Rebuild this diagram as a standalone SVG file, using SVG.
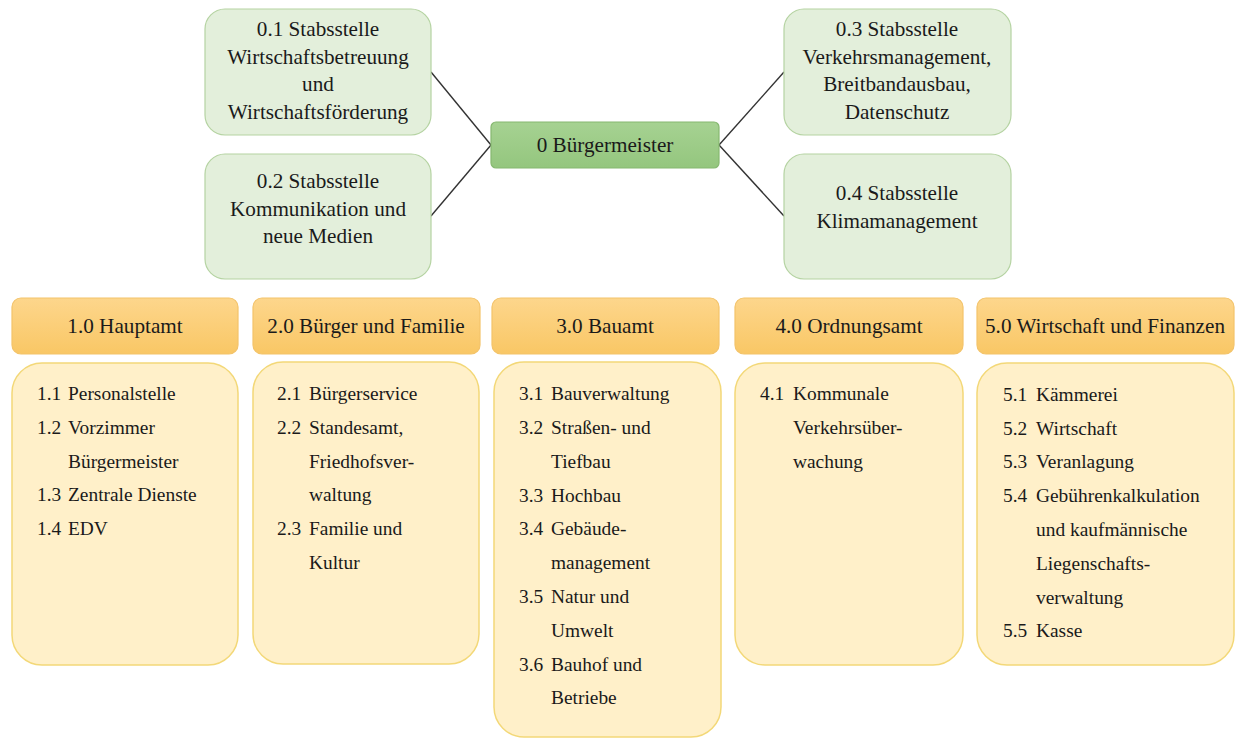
<svg xmlns="http://www.w3.org/2000/svg" width="1236" height="738" viewBox="0 0 1236 738">
  <defs>
    <linearGradient id="gradHead" x1="0" y1="0" x2="0" y2="1">
      <stop offset="0" stop-color="#fdd68c"/>
      <stop offset="1" stop-color="#f9c765"/>
    </linearGradient>
    <linearGradient id="gradChief" x1="0" y1="0" x2="0" y2="1">
      <stop offset="0" stop-color="#a6d292"/>
      <stop offset="1" stop-color="#94c67e"/>
    </linearGradient>
    <style>
      text { font-family: "Liberation Serif", "Times New Roman", serif; fill: #1a1a1a; }
      .staff rect { fill: #e3efdb; stroke: #b5d3a2; stroke-width: 1.2; }
      .staff text { font-size: 21.2px; text-anchor: middle; }
      .chief rect { fill: url(#gradChief); stroke: #86b870; stroke-width: 1.2; }
      .chief text { font-size: 21.2px; text-anchor: middle; }
      .head rect { fill: url(#gradHead); stroke: #f3c36a; stroke-width: 1.2; }
      .head text { font-size: 21.2px; text-anchor: middle; }
      .body rect { fill: #fff0c9; stroke: #f3d878; stroke-width: 1.5; }
      .body text { font-size: 19.4px; }
      .links line { stroke: #333333; stroke-width: 1.4; }
    </style>
  </defs>

  <rect width="1236" height="738" fill="#ffffff"/>

  <!-- connectors between the mayor and the staff units -->
  <g id="connectors" class="links">
    <line x1="431" y1="72" x2="491" y2="145"/>
    <line x1="431" y1="216" x2="491" y2="145"/>
    <line x1="719" y1="145" x2="784" y2="72"/>
    <line x1="719" y1="145" x2="784" y2="216"/>
  </g>

  <!-- staff units -->
  <g id="n01" class="staff">
    <rect x="205" y="9" width="226" height="126" rx="20"/>
    <text x="318" y="36">0.1 Stabsstelle</text>
    <text x="318" y="64">Wirtschaftsbetreuung</text>
    <text x="318" y="91">und</text>
    <text x="318" y="119">Wirtschaftsförderung</text>
  </g>
  <g id="n02" class="staff">
    <rect x="205" y="154" width="226" height="125" rx="20"/>
    <text x="318" y="188">0.2 Stabsstelle</text>
    <text x="318" y="216">Kommunikation und</text>
    <text x="318" y="243">neue Medien</text>
  </g>
  <g id="n03" class="staff">
    <rect x="784" y="9" width="227" height="126" rx="20"/>
    <text x="897" y="36">0.3 Stabsstelle</text>
    <text x="897" y="64">Verkehrsmanagement,</text>
    <text x="897" y="91">Breitbandausbau,</text>
    <text x="897" y="119">Datenschutz</text>
  </g>
  <g id="n04" class="staff">
    <rect x="784" y="154" width="227" height="125" rx="20"/>
    <text x="897" y="200">0.4 Stabsstelle</text>
    <text x="897" y="228">Klimamanagement</text>
  </g>

  <!-- mayor -->
  <g id="n0" class="chief">
    <rect x="491" y="122" width="228" height="46" rx="5"/>
    <text x="605" y="152">0 Bürgermeister</text>
  </g>

  <!-- departments -->
  <g id="d1">
    <g class="head">
      <rect x="12" y="298" width="226" height="56" rx="9"/>
      <text x="125" y="333">1.0 Hauptamt</text>
    </g>
    <g class="body">
      <rect x="12" y="363" width="226" height="302" rx="30"/>
      <text x="37" y="400">1.1</text><text x="68" y="400">Personalstelle</text>
      <text x="37" y="434">1.2</text><text x="68" y="434">Vorzimmer</text>
      <text x="68" y="468">Bürgermeister</text>
      <text x="37" y="501">1.3</text><text x="68" y="501">Zentrale Dienste</text>
      <text x="37" y="535">1.4</text><text x="68" y="535">EDV</text>
    </g>
  </g>

  <g id="d2">
    <g class="head">
      <rect x="253" y="298" width="227" height="56" rx="9"/>
      <text x="366" y="333">2.0 Bürger und Familie</text>
    </g>
    <g class="body">
      <rect x="253" y="362" width="226" height="302" rx="30"/>
      <text x="277" y="400">2.1</text><text x="309" y="400">Bürgerservice</text>
      <text x="277" y="434">2.2</text><text x="309" y="434">Standesamt,</text>
      <text x="309" y="468">Friedhofsver-</text>
      <text x="309" y="501">waltung</text>
      <text x="277" y="535">2.3</text><text x="309" y="535">Familie und</text>
      <text x="309" y="569">Kultur</text>
    </g>
  </g>

  <g id="d3">
    <g class="head">
      <rect x="492" y="298" width="227" height="56" rx="9"/>
      <text x="605" y="333">3.0 Bauamt</text>
    </g>
    <g class="body">
      <rect x="494" y="362" width="227" height="375" rx="30"/>
      <text x="519" y="400">3.1</text><text x="551" y="400">Bauverwaltung</text>
      <text x="519" y="434">3.2</text><text x="551" y="434">Straßen- und</text>
      <text x="551" y="468">Tiefbau</text>
      <text x="519" y="502">3.3</text><text x="551" y="502">Hochbau</text>
      <text x="519" y="535">3.4</text><text x="551" y="535">Gebäude-</text>
      <text x="551" y="569">management</text>
      <text x="519" y="603">3.5</text><text x="551" y="603">Natur und</text>
      <text x="551" y="637">Umwelt</text>
      <text x="519" y="671">3.6</text><text x="551" y="671">Bauhof und</text>
      <text x="551" y="704">Betriebe</text>
    </g>
  </g>

  <g id="d4">
    <g class="head">
      <rect x="735" y="298" width="228" height="56" rx="9"/>
      <text x="849" y="333">4.0 Ordnungsamt</text>
    </g>
    <g class="body">
      <rect x="735" y="363" width="228" height="302" rx="30"/>
      <text x="760" y="400">4.1</text><text x="793" y="400">Kommunale</text>
      <text x="793" y="434">Verkehrsüber-</text>
      <text x="793" y="468">wachung</text>
    </g>
  </g>

  <g id="d5">
    <g class="head">
      <rect x="977" y="298" width="257" height="56" rx="9"/>
      <text x="1105" y="333">5.0 Wirtschaft und Finanzen</text>
    </g>
    <g class="body">
      <rect x="977" y="363" width="257" height="302" rx="30"/>
      <text x="1003" y="401">5.1</text><text x="1036" y="401">Kämmerei</text>
      <text x="1003" y="435">5.2</text><text x="1036" y="435">Wirtschaft</text>
      <text x="1003" y="468">5.3</text><text x="1036" y="468">Veranlagung</text>
      <text x="1003" y="502">5.4</text><text x="1036" y="502">Gebührenkalkulation</text>
      <text x="1036" y="536">und kaufmännische</text>
      <text x="1036" y="570">Liegenschafts-</text>
      <text x="1036" y="604">verwaltung</text>
      <text x="1003" y="637">5.5</text><text x="1036" y="637">Kasse</text>
    </g>
  </g>
</svg>
